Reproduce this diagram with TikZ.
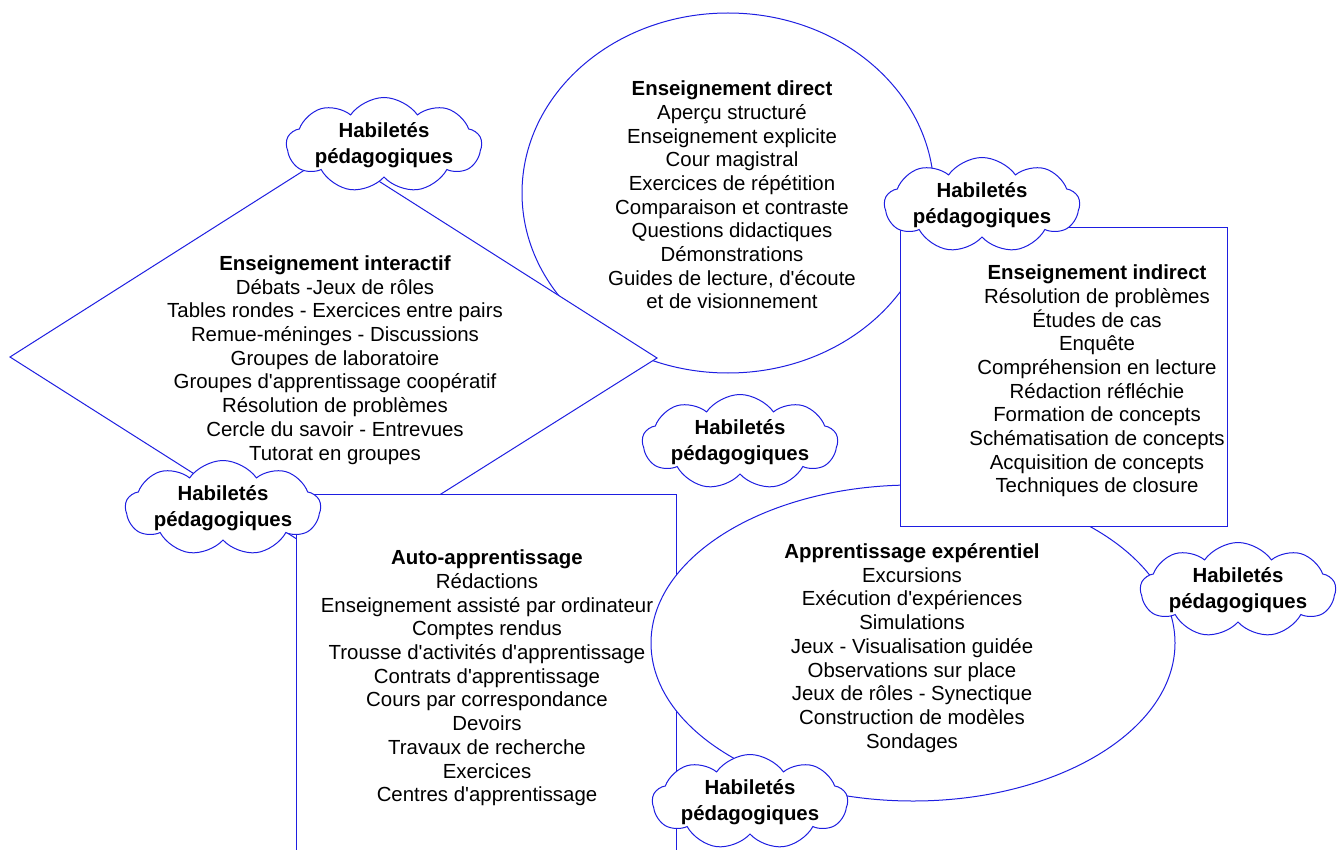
\documentclass[tikz,border=0pt]{standalone}
\usepackage{fontspec}
\setmainfont{Liberation Sans}[Ligatures=TeXOff]
\usepackage{tikz}
\usetikzlibrary{shapes.symbols}
\definecolor{lineblue}{RGB}{30,30,225}

\begin{document}
\begin{tikzpicture}[x=1pt, y=-1pt,
    outline/.style={draw=lineblue, line width=1pt, fill=white},
    txt/.style={align=center, font=\fontsize{20.4}{23.7}\selectfont},
    habcloud/.style={cloud, cloud puffs=9, cloud puff arc=110, cloud ignores aspect,
        draw=lineblue, line width=1pt, fill=white, minimum width=190pt, minimum height=82pt,
        inner sep=0pt, align=center, font=\bfseries\fontsize{20.4}{26}\selectfont}]
    \useasboundingbox (0,0) rectangle (1340,850);
    % the five forms
    \filldraw[outline] (728,193) ellipse [x radius=206, y radius=180];
    \filldraw[outline] (10,357) -- (333,152) -- (657,358) -- (333,562) -- cycle;
    \fill[white] (296,494) rectangle (676,850);
    \draw[outline, fill=none] (296,850) -- (296,494) -- (676,494) -- (676,850);
    \filldraw[outline] (913,643) ellipse [x radius=262, y radius=158];
    \filldraw[outline] (900,228) rectangle (1227,526);
    % texts
    \node[txt] (direct) at (732,195) {\textbf{Enseignement direct}\\Aperçu structuré\\Enseignement explicite\\Cour magistral\\Exercices de répétition\\Comparaison et contraste\\Questions didactiques\\Démonstrations\\Guides de lecture, d'écoute\\et de visionnement};
    \node[txt] (interactif) at (335,360) {\textbf{Enseignement interactif}\\Débats -Jeux de rôles\\Tables rondes - Exercices entre pairs\\Remue-méninges - Discussions\\Groupes de laboratoire\\Groupes d'apprentissage coopératif\\Résolution de problèmes\\Cercle du savoir - Entrevues\\Tutorat en groupes};
    \node[txt] (indirect) at (1097,381) {\textbf{Enseignement indirect}\\Résolution de problèmes\\Études de cas\\Enquête\\Compréhension en lecture\\Rédaction réfléchie\\Formation de concepts\\Schématisation de concepts\\Acquisition de concepts\\Techniques de closure};
    \node[txt] (auto) at (487,678) {\textbf{Auto-apprentissage}\\Rédactions\\Enseignement assisté par ordinateur\\Comptes rendus\\Trousse d'activités d'apprentissage\\Contrats d'apprentissage\\Cours par correspondance\\Devoirs\\Travaux de recherche\\Exercices\\Centres d'apprentissage};
    \node[txt] (experientiel) at (912,648) {\textbf{Apprentissage expérentiel}\\Excursions\\Exécution d'expériences\\Simulations\\Jeux - Visualisation guidée\\Observations sur place\\Jeux de rôles - Synectique\\Construction de modèles\\Sondages};
    % clouds
    \foreach \n/\x/\y in {hpa/384/145, hpb/982/205, hpc/740/442, hpd/223/508, hpe/1238/590, hpf/750/802}
        \node[habcloud] (\n) at (\x,\y) {Habiletés\\pédagogiques};
\end{tikzpicture}
\end{document}
